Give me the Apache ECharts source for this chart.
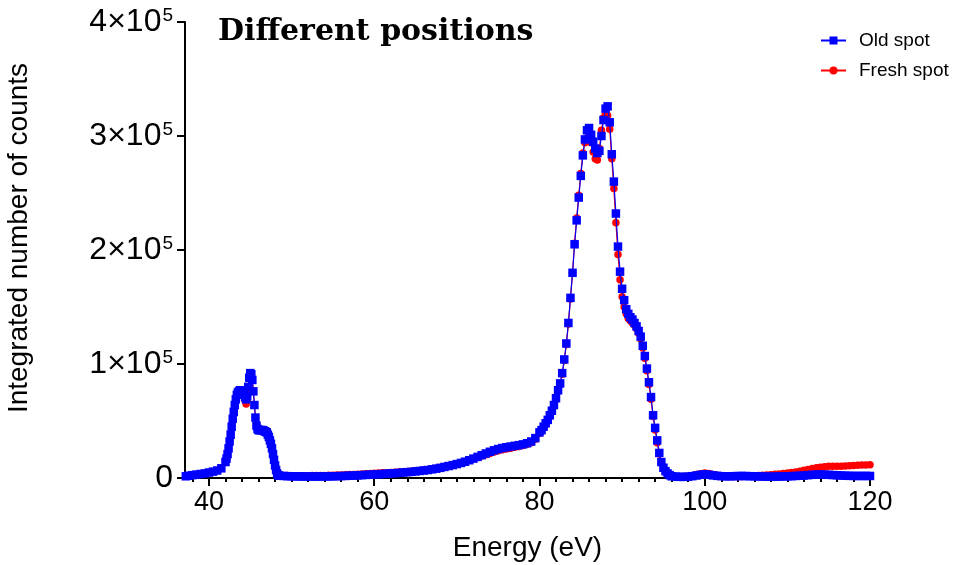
<!DOCTYPE html>
<html><head><meta charset="utf-8">
<script src="https://cdn.jsdelivr.net/npm/echarts@6/dist/echarts.min.js"></script>
<style>html,body{margin:0;padding:0;background:#fff}#c{width:953px;height:565px}</style>
</head><body><div id="c"></div>
<script>
// Energies (eV), sampled in segments
const energyA = [37.2,37.5,38,38.5,39,39.5,40,40.5,41,41.5];
const energyB = [42,42.125,42.25,42.375,42.5,42.625,42.75,42.875,43,43.125,
  43.25,43.375,43.5,43.625,43.75,43.875,44,44.125,44.25,44.375,
  44.5,44.625,44.75,44.875,45,45.125,45.25,45.375,45.5,45.625,
  45.75,45.875,46,46.125,46.25,46.375,46.5,46.625,46.75,46.875,
  47,47.125,47.25,47.375,47.5,47.625,47.75,47.875,48,48.125,
  48.25,48.375,48.5];
const energyC = [49,49.5,50,50.5,51,51.5,52,52.5,53,53.5,
  54,54.5,55,55.5,56,56.5,57,57.5,58,58.5,
  59,59.5,60,60.5,61,61.5,62,62.5,63,63.5,
  64,64.5,65,65.5,66,66.5,67,67.5,68,68.5,
  69,69.5,70,70.5,71,71.5,72,72.5,73,73.5,
  74,74.5,75,75.5,76,76.5,77,77.5,78,78.5,
  79,79.5];
const energyD = [80,80.25,80.5,80.75,81,81.25,81.5,81.75,82,82.25,
  82.5,82.75,83,83.25,83.5,83.75,84,84.25,84.5,84.75,
  85,85.25,85.5,85.75,86,86.25,86.5,86.75,87,87.25,
  87.5,87.75,88,88.25,88.5,88.75,89,89.25,89.5,89.75,
  90,90.25,90.5,90.75,91,91.25,91.5,91.75,92,92.25,
  92.5,92.75,93,93.25,93.5,93.75,94,94.25,94.5,94.75,
  95,95.25,95.5,95.75,96];
const energyE = [96.5,97,97.5,98,98.5,99,99.5,100,100.5,101,
  101.5,102,102.5,103,103.5,104,104.5,105,105.5,106,
  106.5,107,107.5,108,108.5,109,109.5,110,110.5,111,
  111.5,112,112.5,113,113.5,114,114.5,115,115.5,116,
  116.5,117,117.5,118,118.5,119,119.5,120];

// Integrated counts in thousands — Old spot
const oldA = [1.5,2,2.5,3,3.5,4,4.8,5.6,6.6,8.5];
const oldB = [14,17,21,26,32,38,45,52,58,64,
  69,73,75,76,77,77,77,76,74,71,
  69,72,80,88,92,91,86,76,64,53,
  46,43,42,42,42,42,42,41.5,41,40.5,
  40,38,36,33,30,26,21,16,11,7,
  4,2.5,2];
const oldC = [1.8,1.6,1.5,1.4,1.4,1.3,1.3,1.3,1.3,1.3,
  1.4,1.4,1.5,1.6,1.7,1.8,2.0,2.1,2.3,2.5,
  2.7,2.9,3.1,3.3,3.5,3.7,4.0,4.2,4.5,4.8,
  5.1,5.4,5.8,6.2,6.6,7.0,7.6,8.2,8.9,9.7,
  10.5,11.3,12.2,13.2,14.3,15.6,17.0,18.5,20.0,21.5,
  23.0,24.3,25.4,26.3,27.0,27.6,28.2,28.8,29.5,30.5,
  32.0,35.0];
const oldD = [40,42,45,48,51,55,59,64,70,77,
  83,92,104,118,136,158,180,205,226,246,
  265,283,297,305,307,301,295,289,285,287,
  300,314,324,326,312,284,260,232,203,181,
  166,156,148,144,141,139,136,133,129,124,
  116,107,96,84,71,55,44,33,22,14,
  9,6,4,2.5,1.5];
const oldE = [1.2,1.0,1.0,1.2,1.6,2.2,2.8,3.2,2.9,2.3,
  1.9,1.6,1.5,1.5,1.6,1.7,1.8,1.7,1.6,1.5,
  1.4,1.3,1.2,1.2,1.2,1.3,1.4,1.5,1.6,1.8,
  2.0,2.2,2.5,2.8,3.0,3.1,3.0,2.8,2.6,2.4,
  2.2,2.0,1.9,1.8,1.8,1.8,1.8,1.8];

// Integrated counts in thousands — Fresh spot
const freshA = [1.5,2,2.5,3,3.5,4,4.8,5.6,6.6,8.5];
const freshB = [14,17,21,26,32,38,45,52,58,64,
  69,73,75,76,77,77,76,74,72,68,
  65,69,78,87,91,91,86,76,64,53,
  46,43,42,42,42,42,42,41.5,41,40.5,
  40,38,36,33,30,26,21,16,11,7,
  4,2.8,2.2];
const freshC = [2.2,2.1,2.0,2.0,2.0,2.0,2.0,2.1,2.1,2.2,
  2.3,2.4,2.5,2.6,2.7,2.8,3.0,3.1,3.3,3.5,
  3.7,3.9,4.1,4.3,4.5,4.7,4.9,5.1,5.3,5.5,
  5.7,6.0,6.3,6.6,7.0,7.4,7.9,8.5,9.2,10.0,
  10.8,11.6,12.5,13.5,14.5,15.6,16.8,18.0,19.2,20.4,
  21.6,22.8,23.8,24.7,25.5,26.2,26.9,27.6,28.4,29.5,
  31.0,34.0];
const freshD = [39,41,44,47,50,54,58,63,69,76,
  82,91,103,117,135,157,180,206,228,248,
  267,285,294,298,300,294,286,280,279,289,
  305,316,320,318,306,280,254,224,196,174,
  159,150,144,140,138,136,134,131,127,122,
  114,105,94,82,69,54,42,31,21,13,
  8,5.5,3.8,2.4,1.5];
const freshE = [1.3,1.2,1.3,1.6,2.2,3.0,3.8,4.3,3.9,3.1,
  2.4,1.9,1.6,1.4,1.3,1.3,1.4,1.6,1.8,2.0,
  2.2,2.4,2.6,2.9,3.2,3.5,3.9,4.3,4.8,5.3,
  6.0,6.7,7.5,8.3,9.0,9.5,9.9,10.2,10.3,10.3,
  10.4,10.6,10.8,11.0,11.2,11.4,11.5,11.6];

const xMajorTicks = [40, 60, 80, 100, 120];
const xMinorTicks = [38,42,44,46,48,50,52,54,56,58,62,64,66,68,70,72,74,76,78,
  82,84,86,88,90,92,94,96,98,102,104,106,108,110,112,114,116,118];
const yTicks = [0, 100, 200, 300, 400]; // thousands of counts
const yTickMantissa = {0: '0', 100: '1', 200: '2', 300: '3', 400: '4'};

const seriesNames = ['Old spot', 'Fresh spot'];

const energy = [].concat(energyA, energyB, energyC, energyD, energyE);
const oldSpot = [].concat(oldA, oldB, oldC, oldD, oldE);
const freshSpot = [].concat(freshA, freshB, freshC, freshD, freshE);

const FONT = 'Liberation Sans, Arial, sans-serif';
const chart = echarts.init(document.getElementById('c'), null, {renderer: 'canvas'});
chart.setOption({
  animation: false,
  backgroundColor: '#fff',
  title: {
    text: 'Different positions',
    left: 213, top: 12,
    textStyle: {fontFamily: 'DejaVu Serif', fontWeight: 'bold', fontSize: 30, color: '#000'}
  },
  legend: {
    data: seriesNames,
    orient: 'vertical',
    left: 815, top: 26,
    itemWidth: 25, itemHeight: 10, itemGap: 11,
    textStyle: {fontFamily: FONT, fontSize: 19, color: '#000', padding: [0, 0, 0, 8]}
  },
  grid: {left: 185, right: 83, top: 22, bottom: 87, outerBoundsMode: 'none', containLabel: false},
  xAxis: [{
    type: 'value', min: 37.1, max: 120,
    name: 'Energy (eV)', nameLocation: 'middle', nameGap: 56,
    nameTextStyle: {fontFamily: FONT, fontSize: 28, color: '#000'},
    axisLine: {show: true, onZero: false, lineStyle: {color: '#000', width: 2}},
    axisTick: {show: true, customValues: xMajorTicks, length: 8, lineStyle: {color: '#000', width: 2}},
    axisLabel: {customValues: xMajorTicks, fontFamily: FONT, fontSize: 27, color: '#000', margin: 11},
    splitLine: {show: false}
  }, {
    type: 'value', min: 37.1, max: 120, position: 'bottom',
    axisLine: {show: false},
    axisTick: {show: true, customValues: xMinorTicks, length: 4, lineStyle: {color: '#000', width: 2}},
    axisLabel: {show: false},
    splitLine: {show: false}
  }],
  yAxis: {
    type: 'value', min: 0, max: 400, interval: 100,
    name: 'Integrated number of counts', nameLocation: 'middle', nameGap: 152, nameRotate: 90,
    nameTextStyle: {fontFamily: FONT, fontSize: 28, color: '#000', padding: [0, 0, 0, 24]},
    axisLine: {show: true, lineStyle: {color: '#000', width: 2}},
    axisTick: {show: true, length: 8, lineStyle: {color: '#000', width: 2}},
    axisLabel: {
      margin: 12,
      formatter: v => v === 0 ? '{b|0}' : '{b|' + yTickMantissa[v] + '×10}{s|5}',
      rich: {
        b: {fontFamily: FONT, fontSize: 32, color: '#000'},
        s: {fontFamily: FONT, fontSize: 19, color: '#000', verticalAlign: 'top', padding: [0, 0, 0, 1]}
      }
    },
    splitLine: {show: false}
  },
  series: [{
    name: seriesNames[1], type: 'line', xAxisIndex: 0,
    data: energy.map((e, i) => [e, freshSpot[i]]),
    symbol: 'circle', symbolSize: 7.5, showAllSymbol: true,
    itemStyle: {color: '#ff0000'},
    lineStyle: {color: '#ff0000', width: 1.2},
    z: 2
  }, {
    name: seriesNames[0], type: 'line', xAxisIndex: 0,
    data: energy.map((e, i) => [e, oldSpot[i]]),
    symbol: 'rect', symbolSize: 8.5, showAllSymbol: true,
    itemStyle: {color: '#0000ff'},
    lineStyle: {color: '#0000ff', width: 1.2},
    z: 3
  }]
});
</script>
</body></html>
